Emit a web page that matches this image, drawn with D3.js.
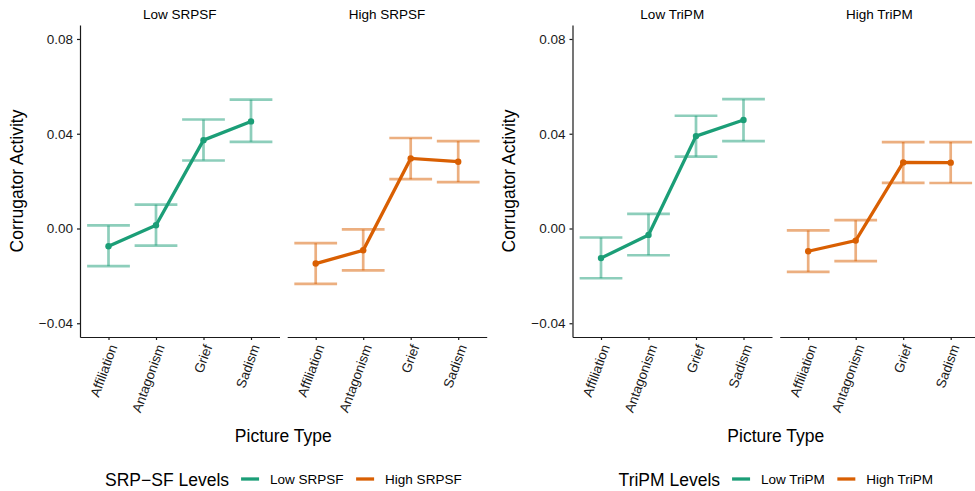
<!DOCTYPE html>
<html>
<head>
<meta charset="utf-8">
<script src="https://cdn.jsdelivr.net/npm/d3@7"></script>
<style>
body { margin: 0; background: #fff; }
svg { display: block; font-family: "Liberation Sans", Arial, sans-serif; }
</style>
</head>
<body>
<div id="chart"></div>
<script>
var pictureTypes = ["Affiliation", "Antagonism", "Grief", "Sadism"];
var yTicks = [-0.04, 0, 0.04, 0.08];

// SRP-SF model
var lowSrpsfMean  = [-0.0075, 0.0014, 0.0373, 0.0452];
var lowSrpsfLower = [-0.0159, -0.0072, 0.0287, 0.0366];
var lowSrpsfUpper = [0.0013, 0.0101, 0.0460, 0.0544];
var highSrpsfMean  = [-0.0148, -0.0092, 0.0296, 0.0282];
var highSrpsfLower = [-0.0234, -0.0177, 0.0208, 0.0196];
var highSrpsfUpper = [-0.0062, -0.0004, 0.0382, 0.0369];

// TriPM model
var lowTripmMean  = [-0.0125, -0.0027, 0.0390, 0.0458];
var lowTripmLower = [-0.0210, -0.0113, 0.0303, 0.0369];
var lowTripmUpper = [-0.0038, 0.0062, 0.0476, 0.0546];
var highTripmMean  = [-0.0096, -0.0051, 0.0279, 0.0278];
var highTripmLower = [-0.0183, -0.0138, 0.0193, 0.0192];
var highTripmUpper = [-0.0008, 0.0035, 0.0365, 0.0365];

var lowColor = "#1B9E77", highColor = "#D95F02";

var W = 975, H = 491;
var plotTop = 25, plotBottom = 337;
var panelWidth = 199.5, panelGap = 7.7;

var svg = d3.select("#chart").append("svg")
    .attr("width", W)
    .attr("height", H);

var y = d3.scaleLinear()
    .domain([-0.0458, 0.0859])
    .range([plotBottom, plotTop]);

var x = d3.scalePoint()
    .domain(pictureTypes)
    .range([0, panelWidth])
    .padding(0.6);

function rows(mean, lower, upper) {
    return pictureTypes.map(function (t, i) {
        return { type: t, mean: mean[i], lower: lower[i], upper: upper[i] };
    });
}

makePlot(80, "SRP\u2212SF Levels", [
    { label: "Low SRPSF", color: lowColor, data: rows(lowSrpsfMean, lowSrpsfLower, lowSrpsfUpper) },
    { label: "High SRPSF", color: highColor, data: rows(highSrpsfMean, highSrpsfLower, highSrpsfUpper) }
]);
makePlot(572.5, "TriPM Levels", [
    { label: "Low TriPM", color: lowColor, data: rows(lowTripmMean, lowTripmLower, lowTripmUpper) },
    { label: "High TriPM", color: highColor, data: rows(highTripmMean, highTripmLower, highTripmUpper) }
]);

function makePlot(left, legendTitle, panels) {
    var g = svg.append("g").attr("transform", "translate(" + left + ",0)");

    // y axis on the first panel only
    var yAxis = g.append("g")
        .call(d3.axisLeft(y).tickValues(yTicks).tickFormat(d3.format(".2f"))
            .tickSize(3).tickSizeOuter(0).tickPadding(4));
    yAxis.selectAll("path, line").attr("stroke", "#1a1a1a").attr("stroke-width", 1.2);
    yAxis.selectAll("text").attr("fill", "#1a1a1a").style("font-size", "13.5px");

    g.append("text")
        .attr("transform", "translate(-57.5," + ((plotTop + plotBottom) / 2) + ") rotate(-90)")
        .attr("text-anchor", "middle")
        .style("font-size", "17.5px")
        .text("Corrugator Activity");

    var step = x.step();

    panels.forEach(function (p, i) {
        var pg = g.append("g")
            .attr("transform", "translate(" + (i * (panelWidth + panelGap)) + ",0)");

        // strip label
        pg.append("text")
            .attr("x", panelWidth / 2)
            .attr("y", 18.5)
            .attr("text-anchor", "middle")
            .style("font-size", "13.5px")
            .text(p.label);

        var xAxis = pg.append("g")
            .attr("transform", "translate(0," + plotBottom + ")")
            .call(d3.axisBottom(x).tickSize(3).tickSizeOuter(0));
        xAxis.selectAll("path, line").attr("stroke", "#1a1a1a").attr("stroke-width", 1.2);
        xAxis.selectAll("text")
            .attr("y", 0)
            .attr("dy", ".35em")
            .attr("transform", "translate(4,8) rotate(-70)")
            .style("text-anchor", "end")
            .style("font-size", "13.5px")
            .attr("fill", "#1a1a1a");

        // error bars
        var eb = pg.append("g")
            .attr("stroke", p.color)
            .attr("stroke-opacity", 0.5)
            .attr("stroke-width", 2.7)
            .selectAll("g")
            .data(p.data)
            .enter().append("g");
        eb.append("line")
            .attr("x1", d => x(d.type)).attr("x2", d => x(d.type))
            .attr("y1", d => y(d.lower)).attr("y2", d => y(d.upper));
        eb.append("line")
            .attr("x1", d => x(d.type) - step * 0.45).attr("x2", d => x(d.type) + step * 0.45)
            .attr("y1", d => y(d.upper)).attr("y2", d => y(d.upper));
        eb.append("line")
            .attr("x1", d => x(d.type) - step * 0.45).attr("x2", d => x(d.type) + step * 0.45)
            .attr("y1", d => y(d.lower)).attr("y2", d => y(d.lower));

        pg.append("path")
            .datum(p.data)
            .attr("fill", "none")
            .attr("stroke", p.color)
            .attr("stroke-width", 3.3)
            .attr("d", d3.line().x(d => x(d.type)).y(d => y(d.mean)));

        pg.selectAll("circle")
            .data(p.data)
            .enter().append("circle")
            .attr("cx", d => x(d.type))
            .attr("cy", d => y(d.mean))
            .attr("r", 3.2)
            .attr("fill", p.color);
    });

    var center = (2 * panelWidth + panelGap) / 2;

    g.append("text")
        .attr("x", center)
        .attr("y", 442)
        .attr("text-anchor", "middle")
        .style("font-size", "17.5px")
        .text("Picture Type");

    // legend, laid out left to right then centred
    var lg = g.append("g");
    var cursor = 0;
    var t = lg.append("text")
        .attr("x", cursor).attr("y", 486)
        .style("font-size", "17.5px")
        .text(legendTitle);
    cursor += t.node().getComputedTextLength() + 12;
    panels.forEach(function (p, i) {
        lg.append("line")
            .attr("x1", cursor).attr("x2", cursor + 18)
            .attr("y1", 479).attr("y2", 479)
            .attr("stroke", p.color)
            .attr("stroke-width", 3.3);
        cursor += 18 + 11;
        var lt = lg.append("text")
            .attr("x", cursor).attr("y", 483.5)
            .style("font-size", "13.5px")
            .text(p.label);
        cursor += lt.node().getComputedTextLength() + 12.5;
    });
    cursor -= 12.5;
    lg.attr("transform", "translate(" + (center - cursor / 2) + ",0)");
}
</script>
</body>
</html>
